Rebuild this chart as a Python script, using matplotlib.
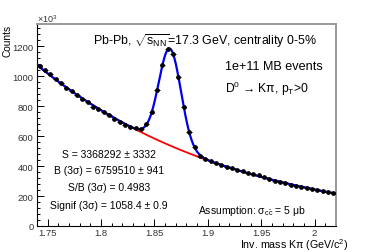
import matplotlib
matplotlib.use("Agg")
import matplotlib.pyplot as plt
import numpy as np
from matplotlib.ticker import MultipleLocator, FuncFormatter

# invariant mass bin centres (GeV/c^2) and counts (x10^3)
mass = np.round(np.arange(1.7425, 2.02, 0.005), 4)
counts = np.array([
    1069, 1040, 1013, 980, 953, 925, 905, 876, 851, 829,
    795, 780, 762, 740, 718, 697, 677, 664, 655, 647,
    680, 763, 909, 1073, 1180, 1151, 995, 793, 627, 525,
    469, 450, 433, 419, 407, 397, 386, 375, 367, 357,
    349, 339, 329, 314, 303, 292, 285, 276, 267, 259,
    252, 245, 239, 233, 228, 223,
], dtype=float)

header = r"Pb-Pb, $\sqrt{\mathregular{s_{NN}}}$=17.3 GeV, centrality 0-5%"
events_txt = "1e+11 MB events"
decay_txt = r"D$^{\mathregular{0}}$ → Kπ, p$_{\mathregular{T}}$>0"
stats_txt = [
    "S = 3368292 ± 3332",
    "B (3σ) = 6759510 ± 941",
    "S/B (3σ) = 0.4983",
    "Signif (3σ) = 1058.4 ± 0.9",
]
assume_txt = r"Assumption: σ$_{\mathregular{c\bar{c}}}$ = 5 μb"

plt.rcParams["font.family"] = ["Liberation Sans", "DejaVu Sans"]
plt.rcParams["mathtext.fontset"] = "custom"
plt.rcParams["mathtext.rm"] = "Liberation Sans"
plt.rcParams["mathtext.it"] = "Liberation Sans:italic"
plt.rcParams["mathtext.bf"] = "Liberation Sans:bold"

# background: exponential-like fit on the side bands, peak: gaussian on residual
side = (mass < 1.83) | (mass > 1.90)
bg_coef = np.polyfit(mass[side] - 1.88, np.log(counts[side]), 2)
resid = counts - np.exp(np.polyval(bg_coef, mass - 1.88))
pk = (mass > 1.84) & (mass < 1.89) & (resid > 30)
g_coef = np.polyfit(mass[pk], np.log(resid[pk]), 2, w=resid[pk])

xf = np.linspace(1.74, 2.02, 600)
bg_curve = np.exp(np.polyval(bg_coef, xf - 1.88))
tot_curve = bg_curve + np.exp(np.polyval(g_coef, xf))

fig = plt.figure(figsize=(3.74, 2.53), dpi=100)
ax = fig.add_axes([0.0989, 0.1028, 0.7995, 0.7984])

ax.plot(xf, bg_curve, color="#ff0000", lw=1.3, zorder=2)
ax.plot(xf, tot_curve, color="#0000ee", lw=1.6, zorder=3)
ax.errorbar(mass, counts, xerr=0.0025, fmt="o", color="black", ms=2.4,
            elinewidth=0.7, capsize=0, zorder=4)

ax.set_xlim(1.74, 2.02)
ax.set_ylim(0, 1350)
ax.xaxis.set_major_locator(MultipleLocator(0.05))
ax.xaxis.set_minor_locator(MultipleLocator(0.01))
ax.yaxis.set_major_locator(MultipleLocator(200))
ax.yaxis.set_minor_locator(MultipleLocator(40))
ax.xaxis.set_major_formatter(FuncFormatter(lambda v, p: f"{v:g}"))
ax.tick_params(which="both", direction="in", top=False, right=False,
               labelsize=6.8, width=0.7, colors="black")
ax.tick_params(which="major", length=5, pad=2.5)
ax.tick_params(axis="x", pad=1.5)
ax.tick_params(which="minor", length=2.5)
ax.tick_params(axis="x", labelcolor="#333333")
ax.tick_params(axis="y", labelcolor="#333333")

for s in ("top", "right"):
    ax.spines[s].set_color("#999999")
    ax.spines[s].set_linewidth(1.4)
for s in ("left", "bottom"):
    ax.spines[s].set_linewidth(0.8)

fig.text(348 / 374, 1 - 245 / 253, r"Inv. mass Kπ (GeV/c$^{\mathregular{2}}$)",
         ha="right", va="center", fontsize=7.7)
fig.text(8 / 374, 1 - 25 / 253, "Counts", rotation=90, ha="center", va="top",
         fontsize=7.3)
fig.text(37 / 374, 1 - 19 / 253, r"×10$^{\mathregular{3}}$", ha="left", va="center",
         fontsize=6.5, color="#333333")

fig.text(93 / 374, 1 - 41 / 253, header, ha="left", va="center", fontsize=8.9)
fig.text(225 / 374, 1 - 67 / 253, events_txt, ha="left", va="center", fontsize=9.1)
fig.text(225 / 374, 1 - 89 / 253, decay_txt, ha="left", va="center", fontsize=8.7)

for txt, yp in zip(stats_txt, [155, 171, 188, 206]):
    fig.text(109 / 374, 1 - yp / 253, txt, ha="center", va="center", fontsize=7.5)

fig.text(198 / 374, 1 - 211 / 253, assume_txt, ha="left", va="center", fontsize=7.5)

fig.savefig("out.png", dpi=100)
